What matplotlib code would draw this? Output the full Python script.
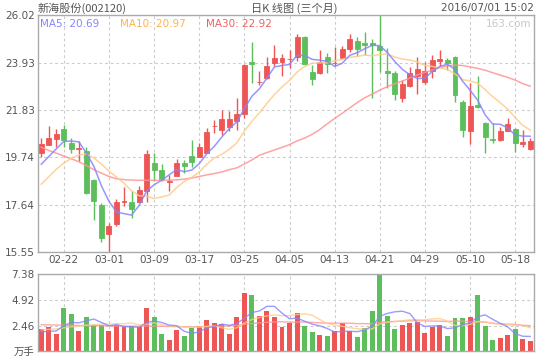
import numpy as np
import pandas as pd
import matplotlib
matplotlib.use('Agg')
import matplotlib.pyplot as plt

CJK = ['Noto Sans CJK SC', 'DejaVu Sans']
plt.rcParams['font.family'] = ['DejaVu Sans', 'Noto Sans CJK SC']

# ---- data ----
dates = ['02-17', '02-18', '02-19', '02-22', '02-23', '02-24', '02-25', '02-26', '02-29',
         '03-01', '03-02', '03-03', '03-04', '03-07', '03-08', '03-09', '03-10', '03-11',
         '03-14', '03-15', '03-16', '03-17', '03-18', '03-21', '03-22', '03-23', '03-24',
         '03-25', '03-28', '03-29', '03-30', '03-31', '04-01', '04-05', '04-06', '04-07',
         '04-08', '04-11', '04-12', '04-13', '04-14', '04-15', '04-18', '04-19', '04-20',
         '04-21', '04-22', '04-25', '04-26', '04-27', '04-28', '04-29', '05-03', '05-04',
         '05-05', '05-06', '05-09', '05-10', '05-11', '05-12', '05-13', '05-16', '05-17',
         '05-18', '05-19', '05-20']

opens = [19.95, 20.30, 20.56, 21.00, 20.40, 20.12, 20.03, 18.75, 17.66, 16.37,
         16.79, 17.78, 17.77, 17.79, 18.27, 19.50, 19.18, 18.66, 18.94, 19.50,
         19.81, 19.78, 19.95, 21.12, 20.96, 21.09, 21.33, 21.67, 23.97, 23.07,
         23.23, 23.93, 23.94, 24.07, 24.16, 25.07, 23.51, 23.45, 24.18, 23.91,
         24.12, 24.51, 24.89, 24.81, 24.79, 24.67, 23.57, 23.47, 22.36, 22.91,
         23.35, 23.09, 23.55, 23.99, 24.05, 24.19, 22.20, 20.93, 22.05, 21.27,
         20.56, 20.49, 20.93, 21.00, 20.35, 20.10]
highs = [20.60, 21.13, 20.99, 21.19, 20.60, 20.47, 20.21, 18.78, 17.73, 16.86,
         17.91, 18.44, 18.25, 18.48, 20.07, 19.94, 19.45, 18.96, 19.68, 19.62,
         20.52, 20.36, 21.05, 21.39, 21.84, 21.80, 22.37, 23.85, 24.84, 23.57,
         24.19, 24.73, 24.30, 24.50, 25.20, 25.10, 23.83, 24.50, 24.36, 24.63,
         24.67, 25.20, 25.07, 25.29, 24.96, 26.02, 24.58, 23.57, 23.14, 23.74,
         24.18, 23.97, 24.25, 24.50, 24.12, 24.21, 22.28, 23.02, 23.35, 21.29,
         21.26, 21.08, 21.49, 21.02, 20.97, 20.60]
lows = [19.78, 20.27, 20.19, 20.18, 19.95, 19.60, 18.13, 16.98, 16.02, 15.55,
        16.73, 17.61, 17.05, 17.77, 17.79, 18.68, 18.72, 18.27, 18.92, 19.04,
        19.34, 19.76, 19.93, 20.80, 20.75, 20.91, 20.95, 21.49, 23.05, 22.94,
        23.20, 23.76, 23.35, 23.68, 23.98, 23.83, 22.95, 23.43, 23.49, 23.77,
        24.10, 24.42, 24.22, 24.27, 22.36, 23.50, 22.80, 22.26, 22.20, 22.86,
        22.55, 23.00, 23.24, 23.76, 23.59, 22.17, 20.66, 20.34, 21.93, 19.95,
        20.37, 20.47, 20.91, 19.97, 20.19, 20.08]
closes = [20.34, 20.60, 20.77, 20.49, 20.13, 20.15, 18.15, 17.80, 16.20, 16.71,
          17.77, 17.81, 17.48, 18.30, 19.88, 19.20, 18.79, 18.68, 19.50, 19.38,
          19.56, 20.21, 20.87, 21.14, 21.43, 21.44, 21.67, 23.83, 23.85, 23.09,
          23.79, 24.14, 24.14, 24.09, 25.07, 23.85, 23.22, 23.96, 23.85, 23.93,
          24.54, 24.98, 24.55, 24.71, 24.70, 24.47, 23.45, 22.56, 22.99, 23.48,
          23.64, 23.55, 24.05, 24.11, 23.92, 22.52, 20.97, 22.02, 21.95, 20.66,
          20.49, 20.91, 21.22, 20.37, 20.43, 20.46]
volumes = [2.13, 2.33, 1.68, 4.14, 3.57, 1.94, 3.28, 2.52, 2.52, 1.97,
           2.49, 2.33, 2.42, 2.33, 4.14, 3.28, 1.68, 1.11, 2.07, 1.46,
           2.26, 2.45, 3.00, 2.71, 2.61, 1.68, 3.28, 5.58, 5.42, 3.38,
           3.89, 3.28, 2.33, 2.74, 3.67, 2.42, 1.85, 1.56, 1.46, 1.94,
           2.71, 1.94, 1.37, 2.23, 3.86, 7.33, 3.38, 2.13, 2.52, 2.71,
           2.83, 1.75, 2.33, 2.52, 1.46, 3.19, 3.19, 3.28, 5.39, 2.42,
           1.08, 1.27, 1.56, 2.13, 1.18, 0.99]

# moving-average values before the window fills (history not shown on chart)
ma5_head = [19.44, 19.78, 20.12, 20.45]
ma10_head = [18.56, 18.89, 19.22, 19.49, 19.71, 19.85, 19.90, 19.71, 19.45]
ma30_head = [20.19, 20.05, 19.93, 19.80, 19.68, 19.55, 19.38, 19.20, 19.05, 18.90,
             18.80, 18.76, 18.74, 18.73, 18.73, 18.73, 18.73, 18.74, 18.75, 18.78,
             18.83, 18.90, 18.97, 19.03, 19.10, 19.20, 19.28, 19.45, 19.63]
vma5_head = [1.85, 1.90, 1.95, 2.45]
vma10_head = [2.05, 2.10, 2.15, 2.25, 2.35, 2.40, 2.50, 2.55, 2.60]
vma30_head = [2.55, 2.53, 2.52, 2.50, 2.50, 2.48, 2.47, 2.46, 2.45, 2.44,
              2.43, 2.42, 2.41, 2.40, 2.42, 2.42, 2.40, 2.38, 2.37, 2.35,
              2.35, 2.36, 2.38, 2.40, 2.42, 2.43, 2.48, 2.58, 2.66]

price_ticks = [15.55, 17.64, 19.74, 21.83, 23.93, 26.02]
vol_ticks = [0, 2.46, 4.92, 7.38]
ma_labels = ['MA5: 20.69', 'MA10: 20.97', 'MA30: 22.92']


def moving(vals, n, head):
    s = pd.Series(vals).rolling(n).mean()
    s.iloc[:n - 1] = head
    return s.values


RED = '#ee5656'
GREEN = '#5cbf5c'
C5, C10, C30 = '#8484ff', '#ffcb8a', '#ff9494'
GRID = '#cccccc'
TXT = '#555555'

o = np.array(opens); c = np.array(closes)
h = np.array(highs); l = np.array(lows)
v = np.array(volumes)
x = np.arange(len(dates))
cols = np.where(c >= o, RED, GREEN)

fig = plt.figure(figsize=(5.4, 3.6), dpi=100)
W, H = 540, 360
left, right = 37.5, 534
ax = fig.add_axes([left / W, 1 - 252.3 / H, (right - left) / W, (252.3 - 15.3) / H])
axv = fig.add_axes([left / W, 1 - 351.3 / H, (right - left) / W, 77 / H])

# candles
ax.vlines(x, l, h, colors=cols, linewidth=1.0, zorder=2)
ax.bar(x, np.abs(c - o), bottom=np.minimum(o, c), width=0.66,
       color=cols, edgecolor=cols, linewidth=0.6, zorder=2)
ax.plot(x, moving(closes, 30, ma30_head), color=C30, lw=1.1, alpha=0.85, zorder=3)
ax.plot(x, moving(closes, 10, ma10_head), color=C10, lw=1.1, alpha=0.85, zorder=3)
ax.plot(x, moving(closes, 5, ma5_head), color=C5, lw=1.1, alpha=0.85, zorder=3)

# volume
axv.bar(x, v, width=0.66, color=cols, linewidth=0, zorder=2)
axv.plot(x, moving(volumes, 30, vma30_head), color=C30, lw=1.0, alpha=0.8, zorder=3)
axv.plot(x, moving(volumes, 10, vma10_head), color=C10, lw=1.0, alpha=0.8, zorder=3)
axv.plot(x, moving(volumes, 5, vma5_head), color=C5, lw=1.0, alpha=0.8, zorder=3)

tick_pos = list(range(3, len(dates), 6))
for a in (ax, axv):
    a.set_xlim(-0.5, len(dates) - 0.5)
    a.set_xticks(tick_pos)
    a.grid(True, linestyle=(0, (2.5, 2.5)), color=GRID, linewidth=0.8, zorder=0)
    a.set_axisbelow(True)
    for s in a.spines.values():
        s.set_color('#aaaaaa')
        s.set_linewidth(1.0)
    a.tick_params(length=0, labelsize=7.5, colors=TXT, pad=2)

ax.set_ylim(price_ticks[0], price_ticks[-1])
ax.set_yticks(price_ticks)
ax.set_yticklabels(['%.2f' % t for t in price_ticks])
ax.set_xticklabels([dates[i] for i in tick_pos])

axv.set_ylim(0, vol_ticks[-1])
axv.set_yticks(vol_ticks)
axv.set_yticklabels(['万手'] + ['%.2f' % t for t in vol_ticks[1:]])
axv.get_yticklabels()[0].set_fontfamily(CJK)
axv.set_xticklabels([])

# header
fig.text(38 / W, 1 - 8 / H, '新海股份(002120)', family=CJK, fontsize=8, color=TXT, va='center')
fig.text(294 / W, 1 - 8 / H, '日K 线图 (三个月)', family=CJK, fontsize=8, color=TXT,
         va='center', ha='center')
fig.text(534 / W, 1 - 8 / H, '2016/07/01 15:02', fontsize=7.5, color=TXT, va='center', ha='right')

# MA legend and watermark
for xp, lab, col in zip([40, 120, 206], ma_labels, [C5, '#ffb347', '#f06060']):
    fig.text(xp / W, 1 - 24 / H, lab, fontsize=7.5, color=col, va='center')
fig.text(531 / W, 1 - 24 / H, '163.com', fontsize=7.5, color='#c8c8c8', va='center', ha='right')

fig.savefig('out.png', dpi=100)
